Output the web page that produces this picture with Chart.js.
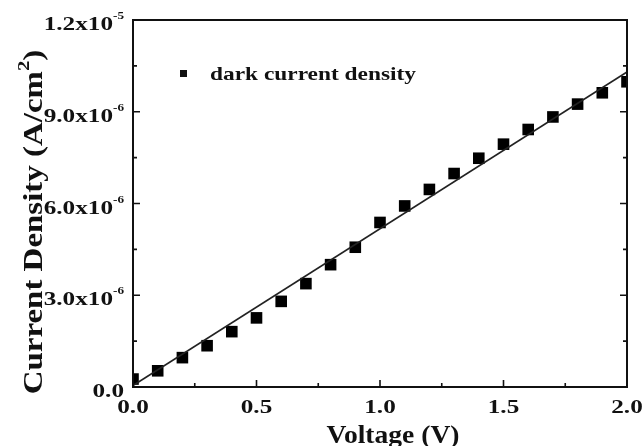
<!DOCTYPE html>
<html>
<head>
<meta charset="utf-8">
<script src="https://cdn.jsdelivr.net/npm/chart.js@4.4.1/dist/chart.umd.min.js"></script>
<style>
  html, body { margin: 0; padding: 0; background: #ffffff; }
  canvas { display: block; }
</style>
</head>
<body>
<canvas id="c" width="642" height="446"></canvas>
<script>
// ---- data ----
const voltage = [0.0, 0.1, 0.2, 0.3, 0.4, 0.5, 0.6, 0.7, 0.8, 0.9, 1.0, 1.1, 1.2, 1.3, 1.4, 1.5, 1.6, 1.7, 1.8, 1.9, 2.0];
const darkCurrent = [0.26e-6, 0.53e-6, 0.96e-6, 1.35e-6, 1.81e-6, 2.26e-6, 2.80e-6, 3.38e-6, 4.00e-6, 4.57e-6, 5.38e-6,
                     5.92e-6, 6.46e-6, 6.98e-6, 7.48e-6, 7.94e-6, 8.42e-6, 8.83e-6, 9.25e-6, 9.62e-6, 9.98e-6];
const fitVoltage = [0.0, 2.0];
const fitCurrent = [0.05e-6, 10.3e-6];

const seriesName = "dark current density";
const xTitle = "Voltage (V)";
const yTitleMain = "Current Density (A/cm";
const yTitleSup = "2";
const yTitleEnd = ")";

const xTickValues = [0.0, 0.5, 1.0, 1.5, 2.0];
const xTickLabels = ["0.0", "0.5", "1.0", "1.5", "2.0"];
const xMinorTicks = [0.25, 0.75, 1.25, 1.75];
const yTickValues = [0, 3e-6, 6e-6, 9e-6, 1.2e-5];
const yTickMantissa = ["0.0", "3.0x10", "6.0x10", "9.0x10", "1.2x10"];
const yTickExponent = ["", "-6", "-6", "-6", "-5"];
const yMinorTicks = [1.5e-6, 4.5e-6, 7.5e-6, 1.05e-5];

// ---- helpers ----
const INK = '#111111';
const FAM = '"Liberation Serif", "Times New Roman", Times, serif';
function textWidth(ctx, text, font, sx) {
  ctx.save(); ctx.font = font; const w = ctx.measureText(text).width * sx; ctx.restore(); return w;
}
function drawStretched(ctx, text, x, y, font, sx) {
  ctx.save();
  ctx.font = font;
  ctx.fillStyle = INK;
  ctx.textAlign = 'left';
  ctx.textBaseline = 'alphabetic';
  ctx.translate(x, y);
  ctx.scale(sx, 1);
  ctx.fillText(text, 0, 0);
  ctx.restore();
}

const clipper = {
  id: 'clipper',
  beforeDatasetsDraw(chart) {
    const a = chart.chartArea;
    chart.ctx.save();
    chart.ctx.beginPath();
    chart.ctx.rect(a.left, a.top, a.right - a.left, a.bottom - a.top);
    chart.ctx.clip();
  },
  afterDatasetsDraw(chart) {
    chart.ctx.restore();
  }
};

const decor = {
  id: 'decor',
  afterDraw(chart) {
    const ctx = chart.ctx;
    const a = chart.chartArea;
    const xs = chart.scales.x, ys = chart.scales.y;

    // frame
    ctx.save();
    ctx.strokeStyle = INK;
    ctx.lineWidth = 2;
    ctx.strokeRect(a.left, a.top, a.right - a.left, a.bottom - a.top);

    // ticks (inward)
    ctx.lineWidth = 1.6;
    ctx.beginPath();
    xTickValues.forEach(v => { const p = xs.getPixelForValue(v); ctx.moveTo(p, a.bottom); ctx.lineTo(p, a.bottom - 7); });
    xMinorTicks.forEach(v => { const p = xs.getPixelForValue(v); ctx.moveTo(p, a.bottom); ctx.lineTo(p, a.bottom - 4); });
    yTickValues.forEach(v => {
      const p = ys.getPixelForValue(v);
      ctx.moveTo(a.left, p); ctx.lineTo(a.left + 7, p);
      ctx.moveTo(a.right, p); ctx.lineTo(a.right - 7, p);
    });
    yMinorTicks.forEach(v => {
      const p = ys.getPixelForValue(v);
      ctx.moveTo(a.left, p); ctx.lineTo(a.left + 4, p);
      ctx.moveTo(a.right, p); ctx.lineTo(a.right - 4, p);
    });
    ctx.stroke();
    ctx.restore();

    const tickFont = 'bold 18px ' + FAM;
    const supFont = 'bold 11px ' + FAM;
    const tsx = 1.4;

    // x tick labels
    xTickValues.forEach((v, i) => {
      const p = xs.getPixelForValue(v);
      const w = textWidth(ctx, xTickLabels[i], tickFont, tsx);
      drawStretched(ctx, xTickLabels[i], p - w / 2, a.bottom + 26, tickFont, tsx);
    });

    // y tick labels with superscript exponents
    yTickValues.forEach((v, i) => {
      const p = ys.getPixelForValue(v);
      const wm = textWidth(ctx, yTickMantissa[i], tickFont, tsx);
      const we = yTickExponent[i] ? textWidth(ctx, yTickExponent[i], supFont, 1.2) : 0;
      const right = a.left - 9;
      const base = p + 10;
      drawStretched(ctx, yTickMantissa[i], right - we - wm, base, tickFont, tsx);
      if (yTickExponent[i]) drawStretched(ctx, yTickExponent[i], right - we, base - 11, supFont, 1.2);
    });

    // x axis title
    const titleFont = 'bold 26px ' + FAM;
    const wx = textWidth(ctx, xTitle, titleFont, 1.06);
    drawStretched(ctx, xTitle, 393 - wx / 2, 443, titleFont, 1.06);

    // y axis title (rotated)
    const yFont = 'bold 27px ' + FAM;
    const ysupFont = 'bold 17px ' + FAM;
    const ysx = 1.22;
    const w1 = textWidth(ctx, yTitleMain, yFont, ysx);
    const w2 = textWidth(ctx, yTitleSup, ysupFont, ysx);
    const w3 = textWidth(ctx, yTitleEnd, yFont, ysx);
    const total = w1 + w2 + w3;
    ctx.save();
    ctx.translate(42, 222);
    ctx.rotate(-Math.PI / 2);
    drawStretched(ctx, yTitleMain, -total / 2, 0, yFont, ysx);
    drawStretched(ctx, yTitleSup, -total / 2 + w1, -13, ysupFont, ysx);
    drawStretched(ctx, yTitleEnd, -total / 2 + w1 + w2, 0, yFont, ysx);
    ctx.restore();

    // legend
    ctx.save();
    ctx.fillStyle = INK;
    ctx.fillRect(180, 70, 7, 7);
    ctx.restore();
    drawStretched(ctx, seriesName, 210, 80, 'bold 19px ' + FAM, 1.23);
  }
};

function build() {
  new Chart(document.getElementById('c'), {
    type: 'scatter',
    data: {
      datasets: [
        {
          label: 'fit',
          data: fitVoltage.map((v, i) => ({ x: v, y: fitCurrent[i] })),
          showLine: true,
          borderColor: '#222222',
          borderWidth: 1.6,
          pointRadius: 0,
          order: 1
        },
        {
          label: seriesName,
          data: voltage.map((v, i) => ({ x: v, y: darkCurrent[i] })),
          showLine: false,
          pointStyle: 'rect',
          pointRadius: 8.2,
          pointHoverRadius: 8.2,
          backgroundColor: '#000000',
          borderWidth: 0,
          clip: 0,
          order: 2
        }
      ]
    },
    options: {
      responsive: false,
      animation: false,
      devicePixelRatio: 1,
      layout: { padding: { left: 133, right: 15, top: 20, bottom: 59 } },
      plugins: { legend: { display: false }, tooltip: { enabled: false } },
      scales: {
        x: { type: 'linear', min: 0, max: 2.0, display: false },
        y: { type: 'linear', min: 0, max: 1.2e-5, display: false }
      }
    },
    plugins: [clipper, decor]
  });
}

if (document.fonts && document.fonts.load) {
  Promise.all([
    document.fonts.load('bold 18px "Liberation Serif"'),
    document.fonts.load('bold 27px "Liberation Serif"')
  ]).then(build, build);
} else {
  build();
}
</script>
</body>
</html>
